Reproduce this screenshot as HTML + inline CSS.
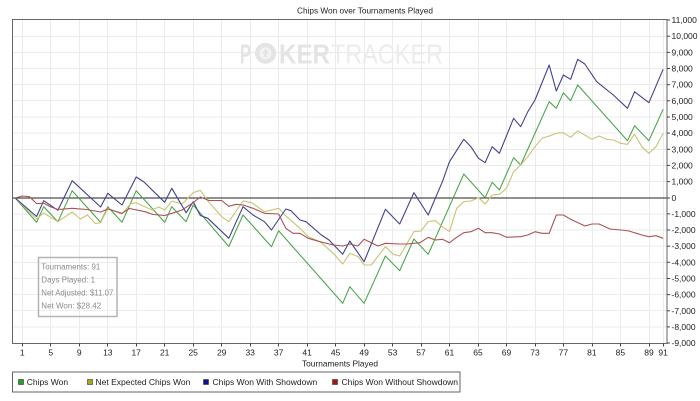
<!DOCTYPE html>
<html><head><meta charset="utf-8"><style>
html,body{margin:0;padding:0;background:#fff;}
svg{display:block;}
text{font-family:"Liberation Sans",Arial,sans-serif;}
</style></head><body>
<svg width="700" height="401" viewBox="0 0 700 401" xmlns="http://www.w3.org/2000/svg">
<rect x="0" y="0" width="700" height="401" fill="#fff"/>
<text x="365" y="13.3" font-size="8.5" fill="#222" text-anchor="middle" textLength="136" lengthAdjust="spacingAndGlyphs">Chips Won over Tournaments Played</text>

<!-- grid -->
<g stroke="#ebebeb" stroke-width="1">
<line x1="22.5" y1="20" x2="22.5" y2="343"/><line x1="50.5" y1="20" x2="50.5" y2="343"/><line x1="79.5" y1="20" x2="79.5" y2="343"/><line x1="107.5" y1="20" x2="107.5" y2="343"/><line x1="136.5" y1="20" x2="136.5" y2="343"/><line x1="164.5" y1="20" x2="164.5" y2="343"/><line x1="193.5" y1="20" x2="193.5" y2="343"/><line x1="221.5" y1="20" x2="221.5" y2="343"/><line x1="250.5" y1="20" x2="250.5" y2="343"/><line x1="278.5" y1="20" x2="278.5" y2="343"/><line x1="307.5" y1="20" x2="307.5" y2="343"/><line x1="335.5" y1="20" x2="335.5" y2="343"/><line x1="364.5" y1="20" x2="364.5" y2="343"/><line x1="392.5" y1="20" x2="392.5" y2="343"/><line x1="421.5" y1="20" x2="421.5" y2="343"/><line x1="449.5" y1="20" x2="449.5" y2="343"/><line x1="478.5" y1="20" x2="478.5" y2="343"/><line x1="506.5" y1="20" x2="506.5" y2="343"/><line x1="535.5" y1="20" x2="535.5" y2="343"/><line x1="563.5" y1="20" x2="563.5" y2="343"/><line x1="592.5" y1="20" x2="592.5" y2="343"/><line x1="620.5" y1="20" x2="620.5" y2="343"/><line x1="649.5" y1="20" x2="649.5" y2="343"/><line x1="663.5" y1="20" x2="663.5" y2="343"/>
<line x1="12" y1="36.5" x2="667" y2="36.5"/><line x1="12" y1="52.5" x2="667" y2="52.5"/><line x1="12" y1="68.5" x2="667" y2="68.5"/><line x1="12" y1="84.5" x2="667" y2="84.5"/><line x1="12" y1="100.5" x2="667" y2="100.5"/><line x1="12" y1="117" x2="667" y2="117"/><line x1="12" y1="133" x2="667" y2="133"/><line x1="12" y1="149.5" x2="667" y2="149.5"/><line x1="12" y1="165.5" x2="667" y2="165.5"/><line x1="12" y1="181.5" x2="667" y2="181.5"/><line x1="12" y1="214" x2="667" y2="214"/><line x1="12" y1="230" x2="667" y2="230"/><line x1="12" y1="246" x2="667" y2="246"/><line x1="12" y1="262.5" x2="667" y2="262.5"/><line x1="12" y1="278.5" x2="667" y2="278.5"/><line x1="12" y1="294.5" x2="667" y2="294.5"/><line x1="12" y1="310.5" x2="667" y2="310.5"/><line x1="12" y1="327" x2="667" y2="327"/>
</g>

<!-- watermark -->
<g fill="#e4e4e4">
<text x="240" y="63.3" font-size="28" font-weight="bold" textLength="11" lengthAdjust="spacingAndGlyphs">P</text>
<circle cx="265.5" cy="53.3" r="10.5" fill="#e4e4e4"/>
<circle cx="265.5" cy="53.3" r="6" fill="#f3f3f3"/>
<path d="M265.5 48.5 L269 53.5 L266.5 53.5 L267.5 57 L263.5 57 L264.5 53.5 L262 53.5 Z" fill="#e4e4e4"/>
<text x="279" y="63.3" font-size="28" font-weight="bold" textLength="51" lengthAdjust="spacingAndGlyphs">KER</text>
<text x="331" y="63.3" font-size="28" fill="#ececec" textLength="112" lengthAdjust="spacingAndGlyphs">TRACKER</text>
</g>

<!-- zero line -->
<line x1="12" y1="198" x2="667" y2="198" stroke="#222" stroke-width="1"/>

<!-- series -->
<g fill="none" stroke-width="1.1" stroke-linejoin="round">
<polyline stroke="#4ea64e" points="15.2,198 36.6,222.3 43.7,206.7 57.9,221.7 72.2,190.7 100.6,222.3 107.8,206.7 122,222.3 136.2,190.7 164.7,222.3 171.8,206.7 186.1,221.7 193.2,205 228.8,246.5 243,215 271.5,246.7 278.6,230.7 342.7,303.3 349.8,286.7 364.1,303.3 385.4,256 399.7,270.7 413.9,239 428.2,254.3 463.8,174 485.1,197.7 492.2,182.3 499.4,190 513.6,157.7 520.7,165 549.2,101.7 556.3,108.3 563.4,92.7 570.6,100.7 577.7,85 627.5,140.7 634.6,125.7 648.9,140.7 663.1,109.3"/>
<polyline stroke="#c8c474" points="15.2,198 36.6,219 43.7,213 57.9,221.7 72.2,212 80.3,219 87.5,215 95.3,223.5 100.6,222.7 107.8,208.3 122,214 130.3,204 136.2,202.7 145,206.7 152,210 158.7,207 164.7,210 171.8,201 182,204 193.2,192.7 200.3,190.3 207.9,201 221.7,216.7 228.8,221.7 243,201 251.7,202.7 264.4,211.7 278.6,208.3 286.7,216.7 300,228.3 308.3,236.7 320,241.7 333.3,253.3 342.7,264 349.8,253.3 358.3,256.7 364.1,265 371.2,265 385.4,246.7 393.3,254.3 399.7,256 413.9,231.7 421,231 428.2,221.5 435.3,220.7 442.4,226.7 449.5,231.7 456.7,208.3 463.8,201.7 470.9,201 478.5,197.7 485.1,204 492.2,195 499.4,194.3 506.5,188.3 513.6,171.7 520.7,165 527.8,156.7 535,146.7 542.1,138.3 549.2,136 556.3,133.3 563.4,132.7 570.6,137.3 577.7,131 584.8,135 592,139.3 599.1,136 606.2,139.3 613.3,140 620.4,143.3 627.5,144.3 634.6,134.3 641.8,146.7 648.9,153.3 656,146.7 663.1,133.3"/>
<polyline stroke="#42428e" points="15.2,198 36.6,216.5 43.7,200.7 57.9,210.3 72.2,180.7 100.6,207 107.8,193.3 122,205 136.2,177 144,182 164.7,202.3 171.8,188.3 186.1,212.7 193.2,201.7 200.3,215.5 207.9,218.3 228.8,238.3 243,206.7 253,215 264.4,221.7 271.5,230 285.8,209 291,210.7 300,220 306,221.7 321.4,235 329,240 342.7,254.3 349.8,241 364.1,261.7 385.4,209.3 399.7,224 413.9,192.7 428.2,215 442.4,181.7 449.5,161.7 463.8,139.3 470.9,146.7 478.5,158.3 485.1,162.7 492.2,146.7 499.4,153.3 513.6,118.3 520.7,126.7 527.8,111.7 535,100 549.2,65 556.3,91 563.4,75 570.6,79.3 577.7,59.3 584.8,64 596.7,81.7 613.3,95 627.5,108.3 634.6,91.7 648.9,102.7 663.1,69.3"/>
<polyline stroke="#a85454" points="15.2,198 22.3,196 29.4,196.7 36.6,203.5 43.7,203.3 51,207 57.9,209.5 72.2,208.3 86.7,209.5 100.6,212 107.8,209 122,213.3 129.5,208.5 145,211.7 153,214.5 164.7,215.5 172,213.3 182,210 193.2,202.7 200.3,197 209,200.5 221.7,200.5 228.8,206.3 236,204.3 243,205 253,208.3 264.4,213.3 278.6,214 285.8,228.3 293,233.3 300,233.3 308.3,238.3 320,241.7 333.3,245 342.7,246 349.8,244 358,246 364.1,239.3 378,246 385.4,243.3 399.7,244 406.7,244 420,242.7 428.2,237.3 435.3,240 442.4,239.3 449.5,242.7 456.7,237.3 463.8,232.7 470.9,231.7 478.5,228.3 485.1,232.7 492.2,232.7 499.4,234 506.5,237.3 520.7,236.7 527.8,235 535,231.7 542.1,233.3 549.2,233.3 556.3,215 563.4,215 570.6,219.3 585,226 592,224 599.1,224 610,229 621,230 629,231 641.8,235 648.9,236.7 656,235.7 663.1,238.3"/>
</g>

<!-- frame -->
<rect x="12.5" y="19.5" width="654.5" height="324" fill="none" stroke="#666" stroke-width="1"/>

<!-- right ticks -->
<g stroke="#444" stroke-width="1">
<line x1="667" y1="20" x2="670" y2="20"/><line x1="667" y1="36.2" x2="670" y2="36.2"/><line x1="667" y1="52.4" x2="670" y2="52.4"/><line x1="667" y1="68.5" x2="670" y2="68.5"/><line x1="667" y1="84.7" x2="670" y2="84.7"/><line x1="667" y1="100.8" x2="670" y2="100.8"/><line x1="667" y1="117" x2="670" y2="117"/><line x1="667" y1="133.1" x2="670" y2="133.1"/><line x1="667" y1="149.3" x2="670" y2="149.3"/><line x1="667" y1="165.4" x2="670" y2="165.4"/><line x1="667" y1="181.6" x2="670" y2="181.6"/><line x1="667" y1="198" x2="670" y2="198"/><line x1="667" y1="213.9" x2="670" y2="213.9"/><line x1="667" y1="230" x2="670" y2="230"/><line x1="667" y1="246.2" x2="670" y2="246.2"/><line x1="667" y1="262.3" x2="670" y2="262.3"/><line x1="667" y1="278.5" x2="670" y2="278.5"/><line x1="667" y1="294.6" x2="670" y2="294.6"/><line x1="667" y1="310.8" x2="670" y2="310.8"/><line x1="667" y1="326.9" x2="670" y2="326.9"/><line x1="667" y1="343" x2="670" y2="343"/>
</g>
<g font-size="8.5" fill="#222" text-anchor="start">
<text x="671.5" y="23">11,000</text><text x="671.5" y="39.2">10,000</text>
<text x="671.5" y="55.4">9,000</text><text x="671.5" y="71.5">8,000</text><text x="671.5" y="87.7">7,000</text><text x="671.5" y="103.8">6,000</text><text x="671.5" y="120">5,000</text><text x="671.5" y="136.1">4,000</text><text x="671.5" y="152.3">3,000</text><text x="671.5" y="168.4">2,000</text><text x="671.5" y="184.6">1,000</text><text x="671.5" y="201">0</text><text x="671.5" y="216.9">-1,000</text><text x="671.5" y="233">-2,000</text><text x="671.5" y="249.2">-3,000</text><text x="671.5" y="265.3">-4,000</text><text x="671.5" y="281.5">-5,000</text><text x="671.5" y="297.6">-6,000</text><text x="671.5" y="313.8">-7,000</text><text x="671.5" y="329.9">-8,000</text><text x="671.5" y="346">-9,000</text>
</g>

<!-- x ticks -->
<g stroke="#444" stroke-width="1">
<line x1="22.5" y1="343.5" x2="22.5" y2="346.5"/><line x1="50.5" y1="343.5" x2="50.5" y2="346.5"/><line x1="79.5" y1="343.5" x2="79.5" y2="346.5"/><line x1="107.5" y1="343.5" x2="107.5" y2="346.5"/><line x1="136.5" y1="343.5" x2="136.5" y2="346.5"/><line x1="164.5" y1="343.5" x2="164.5" y2="346.5"/><line x1="193.5" y1="343.5" x2="193.5" y2="346.5"/><line x1="221.5" y1="343.5" x2="221.5" y2="346.5"/><line x1="250.5" y1="343.5" x2="250.5" y2="346.5"/><line x1="278.5" y1="343.5" x2="278.5" y2="346.5"/><line x1="307.5" y1="343.5" x2="307.5" y2="346.5"/><line x1="335.5" y1="343.5" x2="335.5" y2="346.5"/><line x1="364.5" y1="343.5" x2="364.5" y2="346.5"/><line x1="392.5" y1="343.5" x2="392.5" y2="346.5"/><line x1="421.5" y1="343.5" x2="421.5" y2="346.5"/><line x1="449.5" y1="343.5" x2="449.5" y2="346.5"/><line x1="478.5" y1="343.5" x2="478.5" y2="346.5"/><line x1="506.5" y1="343.5" x2="506.5" y2="346.5"/><line x1="535.5" y1="343.5" x2="535.5" y2="346.5"/><line x1="563.5" y1="343.5" x2="563.5" y2="346.5"/><line x1="592.5" y1="343.5" x2="592.5" y2="346.5"/><line x1="620.5" y1="343.5" x2="620.5" y2="346.5"/><line x1="649.5" y1="343.5" x2="649.5" y2="346.5"/><line x1="663.5" y1="343.5" x2="663.5" y2="346.5"/>
</g>
<g font-size="8.5" fill="#222" text-anchor="middle">
<text x="22.3" y="355.5">1</text><text x="50.8" y="355.5">5</text><text x="79.3" y="355.5">9</text><text x="107.8" y="355.5">13</text><text x="136.2" y="355.5">17</text><text x="164.7" y="355.5">21</text><text x="193.2" y="355.5">25</text><text x="221.7" y="355.5">29</text><text x="250.2" y="355.5">33</text><text x="278.6" y="355.5">37</text><text x="307.1" y="355.5">41</text><text x="335.6" y="355.5">45</text><text x="364.1" y="355.5">49</text><text x="392.6" y="355.5">53</text><text x="421" y="355.5">57</text><text x="449.5" y="355.5">61</text><text x="478" y="355.5">65</text><text x="506.5" y="355.5">69</text><text x="535" y="355.5">73</text><text x="563.4" y="355.5">77</text><text x="591.9" y="355.5">81</text><text x="620.4" y="355.5">85</text><text x="649" y="355.5">89</text><text x="663.1" y="355.5">91</text>
</g>
<text x="340" y="366.5" font-size="8.5" fill="#222" text-anchor="middle" textLength="76" lengthAdjust="spacingAndGlyphs">Tournaments Played</text>

<!-- info box -->
<rect x="38.5" y="257.5" width="78.5" height="59" fill="none" stroke="#b4b4b4" stroke-width="1.5"/>
<g font-size="8" fill="#8a8a8a">
<text x="41.3" y="269.3" textLength="59" lengthAdjust="spacingAndGlyphs">Tournaments: 91</text>
<text x="41.3" y="282.3">Days Played: 1</text>
<text x="41.3" y="295.7" textLength="72" lengthAdjust="spacingAndGlyphs">Net Adjusted: $11.07</text>
<text x="41.3" y="308.5">Net Won: $28.42</text>
</g>

<!-- legend -->
<rect x="12.5" y="372" width="447.5" height="20" fill="#fff" stroke="#666" stroke-width="1"/>
<rect x="18.5" y="379.5" width="5" height="5" fill="#22a022" stroke="#333" stroke-width="0.6"/>
<rect x="87.5" y="379.5" width="5" height="5" fill="#a8a820" stroke="#333" stroke-width="0.6"/>
<rect x="203.5" y="379.5" width="5" height="5" fill="#101090" stroke="#333" stroke-width="0.6"/>
<rect x="332.5" y="379.5" width="5" height="5" fill="#a01818" stroke="#333" stroke-width="0.6"/>
<g font-size="8.5" fill="#222">
<text x="26.7" y="385">Chips Won</text>
<text x="95.5" y="385">Net Expected Chips Won</text>
<text x="212.5" y="385">Chips Won With Showdown</text>
<text x="341.5" y="385">Chips Won Without Showdown</text>
</g>
</svg>
</body></html>
